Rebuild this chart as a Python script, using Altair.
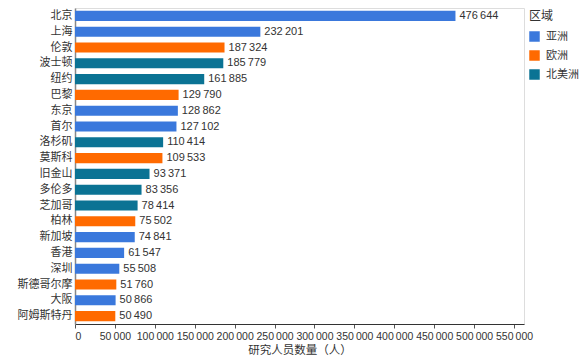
import altair as alt
import pandas as pd

cities = ["北京", "上海", "伦敦", "波士顿", "纽约", "巴黎", "东京", "首尔", "洛杉矶", "莫斯科",
          "旧金山", "多伦多", "芝加哥", "柏林", "新加坡", "香港", "深圳", "斯德哥尔摩", "大阪", "阿姆斯特丹"]
values = [476644, 232201, 187324, 185779, 161885, 129790, 128862, 127102, 110414, 109533,
          93371, 83356, 78414, 75502, 74841, 61547, 55508, 51760, 50866, 50490]
regions = ["亚洲", "亚洲", "欧洲", "北美洲", "北美洲", "欧洲", "亚洲", "亚洲", "北美洲", "欧洲",
           "北美洲", "北美洲", "北美洲", "欧洲", "亚洲", "亚洲", "亚洲", "欧洲", "亚洲", "欧洲"]
region_order = ["亚洲", "欧洲", "北美洲"]
region_colors = ["#3a78dc", "#ff6a00", "#0b7394"]
x_ticks = list(range(0, 550001, 50000))

df = pd.DataFrame({"city": cities, "value": values, "region": regions})

FONT = "Liberation Sans, Noto Sans CJK SC, sans-serif"

base = alt.Chart(df).encode(
    y=alt.Y("city:N", sort=cities, title=None,
            scale=alt.Scale(paddingInner=0.36, paddingOuter=0.18),
            axis=alt.Axis(ticks=False, labelPadding=3, domainColor="#888888",
                          domainWidth=1.5, labelFontSize=11, labelColor="#333333",
                          labelFont=FONT)),
    x=alt.X("value:Q", title="研究人员数量（人）",
            scale=alt.Scale(domain=[0, 562500], nice=False),
            axis=alt.Axis(values=x_ticks, format=",d", grid=False, tickSize=4,
                          domainColor="#333333", tickColor="#555555",
                          labelFontSize=10.5, labelColor="#333333", labelFont=FONT,
                          titleFontSize=11.5, titleFontWeight="normal", titleColor="#333333",
                          titleFont=FONT, titlePadding=3, labelPadding=3)),
)

bars = base.mark_bar().encode(
    color=alt.Color("region:N", title="区域",
                    scale=alt.Scale(domain=region_order, range=region_colors),
                    legend=alt.Legend(orient="none", legendX=454, legendY=3,
                                      symbolType="square", symbolSize=110,
                                      symbolStrokeWidth=0, labelFontSize=11,
                                      titleFontSize=12, titleFontWeight="normal",
                                      titleColor="#333333", labelColor="#333333",
                                      labelFont=FONT, titleFont=FONT,
                                      rowPadding=7, labelOffset=6, titlePadding=8)),
)

labels = base.mark_text(align="left", baseline="middle", dx=4, fontSize=11,
                        color="#333333", font=FONT).encode(
    text=alt.Text("value:Q", format=",d"),
)

chart = (bars + labels).properties(
    width=449, height=316,
    autosize=alt.AutoSizeParams(type="none"),
    padding={"left": 67, "top": 0, "right": 55, "bottom": 32},
).configure_view(stroke=None).configure(
    locale=alt.Locale(number=alt.NumberLocale(decimal=".", thousands="\u2009",
                                              grouping=[3], currency=["", ""]))
)

chart.save("out.html", embed_options={"renderer": "svg", "actions": False})
